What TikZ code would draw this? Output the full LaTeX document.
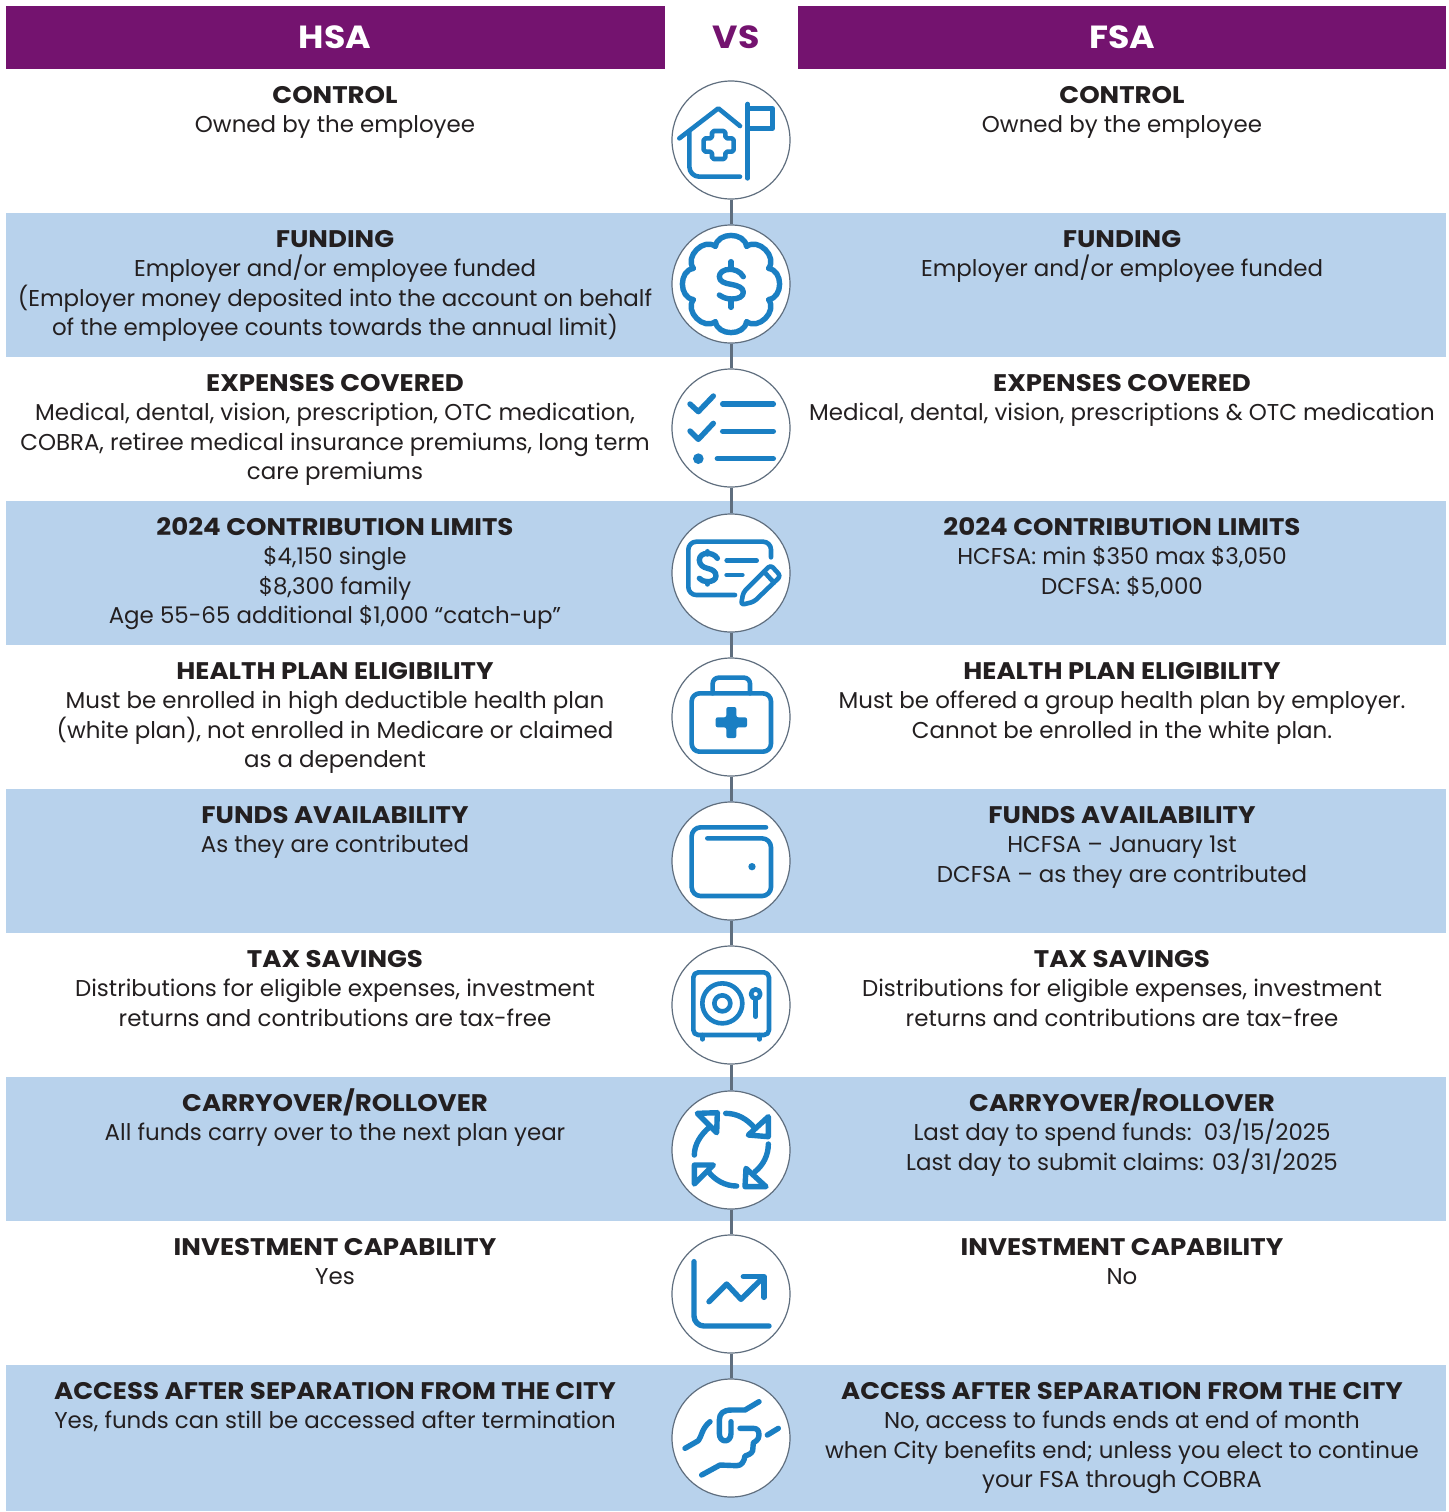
\documentclass[tikz,border=0pt]{standalone}
\usepackage{fontspec}
\setmainfont{Poppins}
\newfontface\bdf{Poppins Bold}[FakeStretch=1.085]
\definecolor{hdrpurple}{HTML}{74136F}
\definecolor{bandblue}{HTML}{B8D2EC}
\definecolor{iconblue}{HTML}{1A7FC3}
\definecolor{slate}{HTML}{5F6E7E}
\definecolor{ink}{HTML}{231F20}
\newcommand\hd[1]{\rule{0pt}{12pt}{\fontsize{12}{14.65}\bdf #1}\\}
\begin{document}
\begin{tikzpicture}[x=0.5pt,y=-0.5pt,
  band/.style={fill=bandblue,draw=none},
  hdr/.style={fill=hdrpurple,draw=none},
  hdrtxt/.style={font=\fontsize{16}{18}\bdf,text=white,inner sep=0},
  blk/.style={anchor=north,align=center,inner sep=0,text=ink,font=\fontsize{11.46}{14.65}\selectfont},
  disc/.style={circle,draw=slate,line width=0.6pt,fill=white,minimum size=59pt,inner sep=0},
  link/.style={draw=slate,line width=1.5pt},
  ic/.style={draw=iconblue,line width=2.3pt,line cap=round,line join=round},
  ict/.style={draw=iconblue,line width=2.7pt,line cap=round,line join=round},
  icz/.style={x=0.16667pt,y=-0.16667pt}]
\useasboundingbox (0,0) rectangle (1449,1512);
\fill[white] (0,0) rectangle (1449,1512);
% bands
\fill[band] (6,213) rectangle (1446,357);
\fill[band] (6,501) rectangle (1446,645);
\fill[band] (6,789) rectangle (1446,933);
\fill[band] (6,1077) rectangle (1446,1221);
\fill[band] (6,1365) rectangle (1446,1511);
% header
\fill[hdr] (6,6) rectangle (665,69);
\fill[hdr] (798,6) rectangle (1446,69);
\node[hdrtxt] (hsa) at (335,37) {HSA};
\node[hdrtxt] (fsa) at (1122,37) {FSA};
\node[hdrtxt,text=hdrpurple] (vs) at (736,37) {VS};
% discs
\node[disc] (c1) at (731,140) {};
\node[disc] (c2) at (731,284) {};
\node[disc] (c3) at (731,428) {};
\node[disc] (c4) at (731,573) {};
\node[disc] (c5) at (731,717) {};
\node[disc] (c6) at (731,861) {};
\node[disc] (c7) at (731,1005) {};
\node[disc] (c8) at (731,1150) {};
\node[disc] (c9) at (731,1294) {};
\node[disc] (c10) at (731,1438) {};
\foreach \a/\b in {c1/c2,c2/c3,c3/c4,c4/c5,c5/c6,c6/c7,c7/c8,c8/c9,c9/c10}
  \draw[link] (\a) -- (\b);
% left column
\node[blk] (l1) at (335,79) {\hd{CONTROL}Owned by the employee};
\node[blk] (l2) at (335,223) {\hd{FUNDING}Employer and/or employee funded\\(Employer money deposited into the account on behalf\\of the employee counts towards the annual limit)};
\node[blk] (l3) at (335,367) {\hd{EXPENSES COVERED}Medical, dental, vision, prescription, OTC medication,\\COBRA, retiree medical insurance premiums, long term\\care premiums};
\node[blk] (l4) at (335,511) {\hd{2024 CONTRIBUTION LIMITS}\$4,150 single\\\$8,300 family\\Age 55-65 additional \$1,000 “catch-up”};
\node[blk] (l5) at (335,655) {\hd{HEALTH PLAN ELIGIBILITY}Must be enrolled in high deductible health plan\\(white plan), not enrolled in Medicare or claimed\\as a dependent};
\node[blk] (l6) at (335,799) {\hd{FUNDS AVAILABILITY}As they are contributed};
\node[blk] (l7) at (335,943) {\hd{TAX SAVINGS}Distributions for eligible expenses, investment\\returns and contributions are tax-free};
\node[blk] (l8) at (335,1087) {\hd{CARRYOVER/ROLLOVER}All funds carry over to the next plan year};
\node[blk] (l9) at (335,1231) {\hd{INVESTMENT CAPABILITY}Yes};
\node[blk] (l10) at (335,1375) {\hd{ACCESS AFTER SEPARATION FROM THE CITY}Yes, funds can still be accessed after termination};
% right column
\node[blk] (r1) at (1122,79) {\hd{CONTROL}Owned by the employee};
\node[blk] (r2) at (1122,223) {\hd{FUNDING}Employer and/or employee funded};
\node[blk] (r3) at (1122,367) {\hd{EXPENSES COVERED}Medical, dental, vision, prescriptions \& OTC medication};
\node[blk] (r4) at (1122,511) {\hd{2024 CONTRIBUTION LIMITS}HCFSA: min \$350 max \$3,050\\DCFSA: \$5,000};
\node[blk] (r5) at (1122,655) {\hd{HEALTH PLAN ELIGIBILITY}Must be offered a group health plan by employer.\\Cannot be enrolled in the white plan.};
\node[blk] (r6) at (1122,799) {\hd{FUNDS AVAILABILITY}HCFSA – January 1st\\DCFSA – as they are contributed};
\node[blk] (r7) at (1122,943) {\hd{TAX SAVINGS}Distributions for eligible expenses, investment\\returns and contributions are tax-free};
\node[blk] (r8) at (1122,1087) {\hd{CARRYOVER/ROLLOVER}Last day to spend funds:\ \ 03/15/2025\\Last day to submit claims: 03/31/2025};
\node[blk] (r9) at (1122,1231) {\hd{INVESTMENT CAPABILITY}No};
\node[blk] (r10) at (1122,1375) {\hd{ACCESS AFTER SEPARATION FROM THE CITY}No, access to funds ends at end of month\\when City benefits end; unless you elect to continue\\your FSA through COBRA};
% icons 1-2
\begin{scope}[shift={(660,0)},icz]
  \draw[ic] (58,415) -- (175,325) -- (240,378);
  \draw[ic,rounded corners=5pt] (88,395) -- (88,530) -- (240,530);
  \draw[ic,rounded corners=0.9pt] (156,393) -- (196,393) -- (196,415) -- (221,415) -- (221,455) -- (196,455) -- (196,477) -- (156,477) -- (156,455) -- (131,455) -- (131,415) -- (156,415) -- cycle;
  \draw[ic] (263,312) -- (263,535);
  \draw[ic] (263,325) -- (338,325) -- (338,385) -- (263,385);
  \begin{scope}[shift={(213,852)}]
    \draw[ic,line width=2.7pt] (22.5:122)
      \foreach \k in {0,1,...,7} { .. controls ({22.5+\k*45+8}:162) and ({22.5+\k*45+37}:162) .. ({22.5+\k*45+45}:122) } -- cycle;
  \end{scope}
  \draw[ict] (250,830) .. controls (240,812) and (220,808) .. (210,808) .. controls (190,808) and (178,818) .. (178,830) .. controls (178,845) and (195,850) .. (213,853) .. controls (235,857) and (250,863) .. (250,877) .. controls (250,890) and (235,897) .. (215,897) .. controls (200,897) and (188,892) .. (178,885);
  \draw[ict] (213,785) -- (213,808);
  \draw[ict] (213,897) -- (213,922);
\end{scope}
% icons 3-5
\begin{scope}[shift={(660,360)},icz]
  \draw[ict] (90,132) -- (115,155) -- (160,108);
  \draw[ict] (90,213) -- (115,238) -- (160,190);
  \fill[iconblue] (115,296) circle[radius=16];
  \draw[ict] (188,132) -- (340,132);
  \draw[ict] (188,214) -- (340,214);
  \draw[ict] (172,296) -- (340,296);
  % check and pencil
  \draw[ic,rounded corners=4pt] (225,705) -- (85,705) -- (85,545) -- (333,545) -- (333,592);
  \draw[ict] (172,595) .. controls (165,583) and (150,580) .. (142,580) .. controls (128,580) and (118,588) .. (118,600) .. controls (118,615) and (130,622) .. (142,625) .. controls (158,628) and (168,635) .. (168,648) .. controls (168,660) and (155,665) .. (142,665) .. controls (132,665) and (124,661) .. (118,655);
  \draw[ict] (142,575) -- (142,582);
  \draw[ict] (142,665) -- (142,672);
  \draw[ic] (200,602) -- (290,602);
  \draw[ic] (200,645) -- (247,645);
  \draw[ic,rounded corners=1.6pt] (243,735) -- (250,697) -- (332,615) -- (362,648) -- (282,725) -- cycle;
  \draw[ic] (312,635) -- (342,668);
  % briefcase
  \draw[ic,rounded corners=4pt] (95,1000) rectangle (333,1175);
  \draw[ic,rounded corners=3pt] (158,1000) -- (158,953) -- (270,953) -- (270,1000);
  \fill[iconblue,rounded corners=1pt] (199,1041) -- (229,1041) -- (229,1072) -- (261,1072) -- (261,1102) -- (229,1102) -- (229,1134) -- (199,1134) -- (199,1102) -- (167,1102) -- (167,1072) -- (199,1072) -- cycle;
\end{scope}
% icons 6-8
\begin{scope}[shift={(660,790)},icz]
  \draw[ic,rounded corners=4.5pt] (318,112) -- (95,112) -- (95,318) -- (333,318) -- (333,145) -- (142,145);
  \fill[iconblue] (276,230) circle[radius=11];
  \draw[ic,rounded corners=2.5pt] (100,547) rectangle (327,735);
  \draw[ic] (127,735) -- (127,748);
  \draw[ic] (299,735) -- (299,748);
  \draw[ic] (187,640) circle[radius=60];
  \draw[ic] (187,640) circle[radius=24];
  \draw[ic] (287,612) circle[radius=14];
  \draw[ic] (287,626) -- (287,680);
  \draw[ict] (103,1095) .. controls (103,1065) and (120,1035) .. (150,1010);
  \draw[ict] (112,970) -- (172,968) -- (170,1028) -- cycle;
  \draw[ict] (197,970) .. controls (230,970) and (260,985) .. (285,1015);
  \draw[ict] (325,980) -- (325,1040) -- (265,1035) -- cycle;
  \draw[ict] (325,1062) .. controls (325,1095) and (310,1125) .. (285,1145);
  \draw[ict] (258,1135) -- (255,1190) -- (318,1190) -- cycle;
  \draw[ict] (230,1188) .. controls (195,1188) and (165,1170) .. (145,1145);
  \draw[ict] (103,1125) -- (160,1125) -- (103,1182) -- cycle;
\end{scope}
% icons 9-10
\begin{scope}[shift={(660,1220)},icz]
  \draw[ict,rounded corners=5pt] (102,125) -- (102,318) -- (327,318);
  \draw[ict] (147,245) -- (200,192) -- (243,238) -- (310,172);
  \draw[ict] (250,170) -- (312,170) -- (312,232);
  \draw[ict] (75,685) -- (115,662) .. controls (125,650) and (125,625) .. (150,605);
  \draw[ict] (297,545) -- (255,570) -- (215,570) .. controls (190,570) and (178,580) .. (178,600) -- (178,640) .. controls (178,670) and (213,670) .. (213,640) -- (213,605);
  \draw[ict] (240,625) -- (280,625) .. controls (292,625) and (297,632) .. (297,645) .. controls (297,660) and (285,665) .. (280,668) -- (278,692) .. controls (275,702) and (262,705) .. (255,708) .. controls (252,725) and (245,737) .. (230,737) -- (180,735) -- (125,765);
  \draw[ict] (322,645) -- (355,625);
\end{scope}
\end{tikzpicture}
\end{document}
